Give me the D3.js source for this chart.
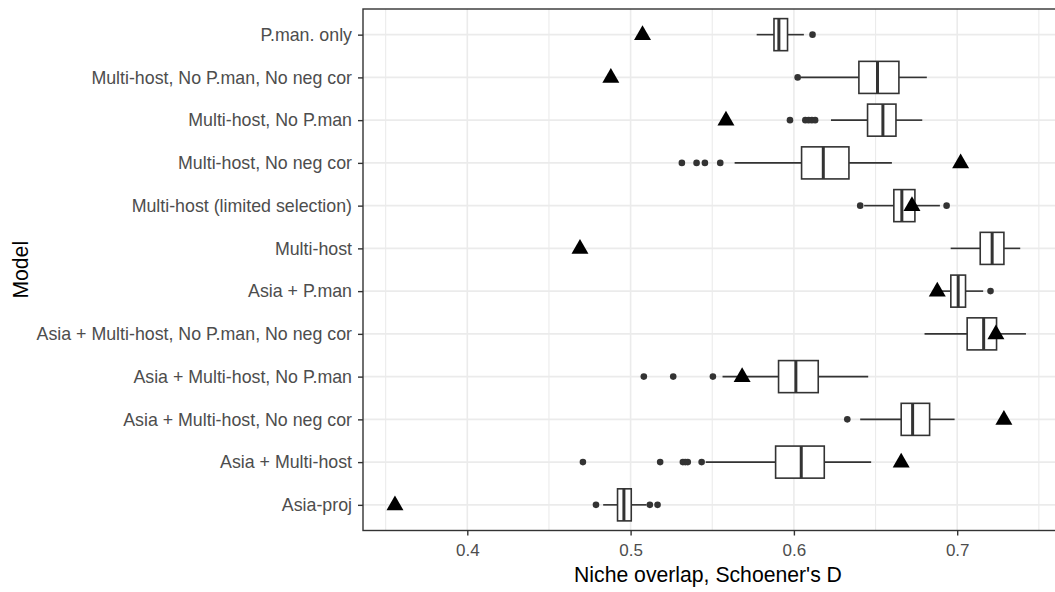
<!DOCTYPE html>
<html>
<head>
<meta charset="utf-8">
<script src="https://cdn.jsdelivr.net/npm/d3@7"></script>
<style>
  html, body { margin: 0; padding: 0; background: #fff; }
  svg { display: block; }
</style>
</head>
<body>
<svg id="chart" width="1055" height="592"></svg>
<script>
// Models, top to bottom
const categories = [
  "P.man. only",
  "Multi-host, No P.man, No neg cor",
  "Multi-host, No P.man",
  "Multi-host, No neg cor",
  "Multi-host (limited selection)",
  "Multi-host",
  "Asia + P.man",
  "Asia + Multi-host, No P.man, No neg cor",
  "Asia + Multi-host, No P.man",
  "Asia + Multi-host, No neg cor",
  "Asia + Multi-host",
  "Asia-proj"
];

// Null-distribution box statistics per model
const whiskerLow  = [0.5772, 0.6040, 0.6227, 0.5637, 0.6430, 0.6960, 0.6865, 0.6800, 0.5563, 0.6406, 0.5460, 0.4832];
const quartile1   = [0.5878, 0.6398, 0.6451, 0.6047, 0.6612, 0.7141, 0.6961, 0.7061, 0.5906, 0.6657, 0.5888, 0.4920];
const medians     = [0.5908, 0.6512, 0.6545, 0.6180, 0.6661, 0.7214, 0.7006, 0.7162, 0.6012, 0.6727, 0.6045, 0.4959];
const quartile3   = [0.5961, 0.6643, 0.6625, 0.6337, 0.6741, 0.7286, 0.7051, 0.7241, 0.6149, 0.6831, 0.6186, 0.5004];
const whiskerHigh = [0.6061, 0.6814, 0.6786, 0.6600, 0.6894, 0.7386, 0.7159, 0.7421, 0.6455, 0.6984, 0.6473, 0.5098];

// Points beyond the whiskers
const outliers = [
  [0.6114],
  [0.6023],
  [0.5976, 0.6070, 0.6090, 0.6110, 0.6130],
  [0.5314, 0.5404, 0.5455, 0.5549],
  [0.6406, 0.6935],
  [],
  [0.7204],
  [],
  [0.5081, 0.5261, 0.5504],
  [0.6327],
  [0.4708, 0.5181, 0.5320, 0.5335, 0.5350, 0.5435],
  [0.4788, 0.5118, 0.5165]
];

// Observed overlap (triangles)
const observed = [0.5073, 0.4879, 0.5584, 0.7021, 0.6723, 0.4690, 0.6878, 0.7237, 0.5683, 0.7286, 0.6657, 0.3557];

const xTicks = [0.4, 0.5, 0.6, 0.7];
const xMinor = [0.35, 0.45, 0.55, 0.65, 0.75];

const svg = d3.select("#chart");
const panel = { left: 363, top: 9, right: 1058, bottom: 530.5 };

const x = d3.scaleLinear().domain([0.4, 0.7]).range([467.3, 957.2]);
const y = d3.scalePoint().domain(categories).range([panel.top, panel.bottom]).padding(0.6);
const boxH = y.step() * 0.75;

const FONT = "'Liberation Sans', Arial, sans-serif";
const dark = "#333333";

// panel background
svg.append("rect")
  .attr("x", panel.left).attr("y", panel.top)
  .attr("width", panel.right - panel.left).attr("height", panel.bottom - panel.top)
  .attr("fill", "#fff");

const grid = svg.append("g");
grid.selectAll("line.minor").data(xMinor).join("line")
  .attr("x1", d => x(d)).attr("x2", d => x(d))
  .attr("y1", panel.top).attr("y2", panel.bottom)
  .attr("stroke", "#EBEBEB").attr("stroke-width", 1.1);
grid.selectAll("line.majx").data(xTicks).join("line")
  .attr("x1", d => x(d)).attr("x2", d => x(d))
  .attr("y1", panel.top).attr("y2", panel.bottom)
  .attr("stroke", "#EBEBEB").attr("stroke-width", 1.6);
grid.selectAll("line.majy").data(categories).join("line")
  .attr("x1", panel.left).attr("x2", panel.right)
  .attr("y1", d => y(d)).attr("y2", d => y(d))
  .attr("stroke", "#EBEBEB").attr("stroke-width", 1.6);

// boxplots
const boxes = svg.append("g");
categories.forEach((c, i) => {
  const cy = y(c);
  const g = boxes.append("g");
  g.append("line")
    .attr("x1", x(whiskerLow[i])).attr("x2", x(quartile1[i]))
    .attr("y1", cy).attr("y2", cy)
    .attr("stroke", dark).attr("stroke-width", 1.6);
  g.append("line")
    .attr("x1", x(quartile3[i])).attr("x2", x(whiskerHigh[i]))
    .attr("y1", cy).attr("y2", cy)
    .attr("stroke", dark).attr("stroke-width", 1.6);
  g.append("rect")
    .attr("x", x(quartile1[i])).attr("y", cy - boxH / 2)
    .attr("width", x(quartile3[i]) - x(quartile1[i])).attr("height", boxH)
    .attr("fill", "#fff").attr("stroke", dark).attr("stroke-width", 1.6);
  g.append("line")
    .attr("x1", x(medians[i])).attr("x2", x(medians[i]))
    .attr("y1", cy - boxH / 2).attr("y2", cy + boxH / 2)
    .attr("stroke", dark).attr("stroke-width", 3);
  g.selectAll("circle").data(outliers[i]).join("circle")
    .attr("cx", d => x(d)).attr("cy", cy).attr("r", 3.3)
    .attr("fill", dark);
});

// observed values
const tri = d3.symbol().type(d3.symbolTriangle).size(125);
svg.append("g").selectAll("path").data(categories).join("path")
  .attr("d", tri)
  .attr("transform", (d, i) => `translate(${x(observed[i])},${y(d) + 0.5})`)
  .attr("fill", "#000");

// panel border
svg.append("rect")
  .attr("x", panel.left).attr("y", panel.top)
  .attr("width", panel.right - panel.left).attr("height", panel.bottom - panel.top)
  .attr("fill", "none").attr("stroke", dark).attr("stroke-width", 1.4);

// x axis
const xAxis = svg.append("g").attr("transform", `translate(0,${panel.bottom})`)
  .call(d3.axisBottom(x).tickValues(xTicks).tickFormat(d3.format(".1f")).tickSize(5).tickPadding(8));
xAxis.select(".domain").remove();
xAxis.selectAll(".tick line").attr("stroke", dark).attr("stroke-width", 1.4);
xAxis.selectAll(".tick text").attr("fill", "#4D4D4D")
  .style("font-family", FONT).style("font-size", "17px");

// y axis
const yAxis = svg.append("g").attr("transform", `translate(${panel.left},0)`)
  .call(d3.axisLeft(y).tickSize(5).tickPadding(6));
yAxis.select(".domain").remove();
yAxis.selectAll(".tick line").attr("stroke", dark).attr("stroke-width", 1.4);
yAxis.selectAll(".tick text").attr("fill", "#4D4D4D")
  .style("font-family", FONT).style("font-size", "17.8px");

// axis titles
svg.append("text")
  .attr("x", (panel.left + 1053) / 2).attr("y", 582)
  .attr("text-anchor", "middle")
  .style("font-family", FONT).style("font-size", "21.2px").attr("fill", "#000")
  .text("Niche overlap, Schoener's D");

svg.append("text")
  .attr("transform", `translate(28,${(panel.top + panel.bottom) / 2}) rotate(-90)`)
  .attr("text-anchor", "middle")
  .style("font-family", FONT).style("font-size", "21.2px").attr("fill", "#000")
  .text("Model");
</script>
</body>
</html>
